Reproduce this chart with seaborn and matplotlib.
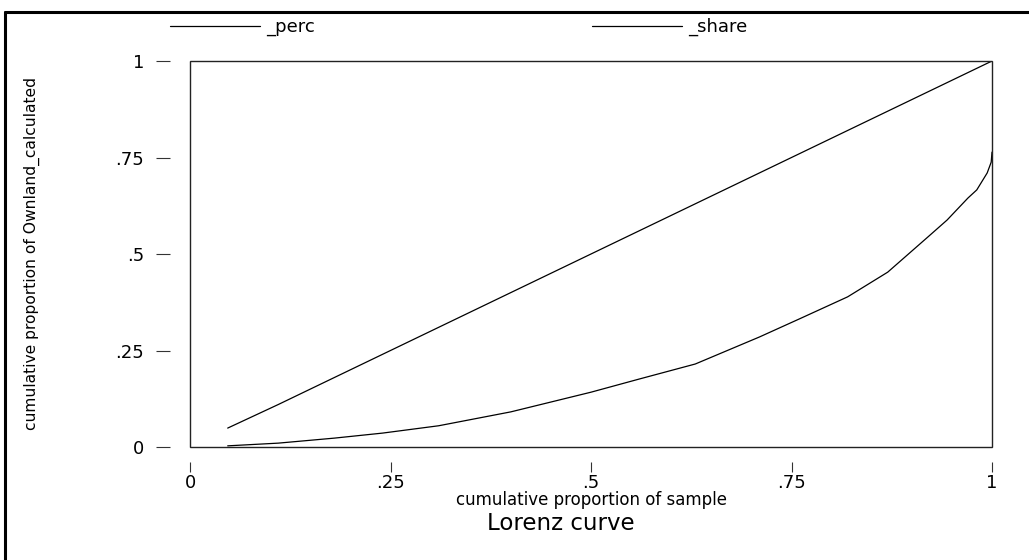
import pandas as pd
import matplotlib
matplotlib.use('Agg')
import matplotlib.pyplot as plt
from matplotlib.patches import Rectangle
from matplotlib.lines import Line2D
import seaborn as sns

# cumulative proportion of sample (x) and the two curves
cum_sample = [0.047, 0.11, 0.18, 0.24, 0.31, 0.40, 0.50, 0.56, 0.63, 0.71,
              0.76, 0.82, 0.87, 0.92, 0.944, 0.97, 0.981, 0.994, 0.999, 1.0]
cum_perc = [0.049, 0.11, 0.18, 0.24, 0.31, 0.40, 0.50, 0.56, 0.63, 0.71,
            0.76, 0.82, 0.87, 0.92, 0.944, 0.97, 0.981, 0.994, 0.999, 1.0]
cum_share = [0.003, 0.010, 0.023, 0.036, 0.055, 0.091, 0.142, 0.176, 0.215, 0.285,
             0.332, 0.389, 0.453, 0.544, 0.588, 0.645, 0.666, 0.710, 0.738, 0.764]

tick_vals = [0, 0.25, 0.5, 0.75, 1]
tick_labels = ['0', '.25', '.5', '.75', '1']


def main():
    sns.set_style('white')
    plt.rcParams['font.family'] = ['DejaVu Sans']
    plt.rcParams['text.color'] = 'black'
    plt.rcParams['xtick.color'] = 'black'
    plt.rcParams['ytick.color'] = 'black'

    df = pd.DataFrame({'sample': cum_sample, '_perc': cum_perc, '_share': cum_share})
    long_df = df.melt(id_vars='sample', var_name='series', value_name='value')

    W, H = 1029, 560
    fig = plt.figure(figsize=(W / 100, H / 100), dpi=100)
    ax = fig.add_axes([190 / W, (H - 447) / H, (992 - 190) / W, (447 - 61) / H])

    sns.lineplot(data=long_df, x='sample', y='value', hue='series',
                 palette={'_perc': 'black', '_share': 'black'},
                 linewidth=0.9, estimator=None, sort=False, ax=ax, legend=False)

    ax.set_xlim(0, 1)
    ax.set_ylim(0, 1)
    for s in ax.spines.values():
        s.set_visible(False)
    ax.spines['left'].set_position(('outward', 14.4))
    ax.spines['bottom'].set_position(('outward', 10.8))
    ax.add_patch(Rectangle((0, 0), 1, 1, transform=ax.transAxes, fill=False,
                           edgecolor='#222222', linewidth=1.0, clip_on=False, zorder=3))

    ax.set_xticks(tick_vals)
    ax.set_xticklabels(tick_labels)
    ax.set_yticks(tick_vals)
    ax.set_yticklabels(tick_labels)
    ax.tick_params(axis='y', direction='out', length=10, width=0.8, pad=8.5,
                   labelsize=13, color='#333333', labelcolor='black', left=True)
    ax.tick_params(axis='x', direction='out', length=7, width=0.8, pad=2,
                   labelsize=13, color='#333333', labelcolor='black', bottom=True)

    ax.set_xlabel('')
    ax.set_ylabel('')
    fig.text(591 / W, 1 - 500 / H, 'cumulative proportion of sample',
             ha='center', va='center', fontsize=12)
    fig.text(561 / W, 1 - 523.5 / H, 'Lorenz curve',
             ha='center', va='center', fontsize=16.5)
    fig.text(32 / W, 1 - 254 / H, 'cumulative proportion of Ownland_calculated',
             ha='center', va='center', rotation=90, fontsize=11.2)

    # legend entries, one per column
    for label, x0 in [('_perc', 170), ('_share', 592)]:
        fig.legend([Line2D([], [], color='black', linewidth=0.9)], [label],
                   loc='center left', bbox_to_anchor=(x0 / W, 1 - 27 / H),
                   frameon=False, fontsize=13, handlelength=5.0,
                   handletextpad=0.3, borderpad=0, borderaxespad=0,
                   labelcolor='black')

    # outer frame (left and top edges visible)
    fig.add_artist(Line2D([5 / W, 5 / W], [0, 1 - 11.5 / H], transform=fig.transFigure,
                          color='black', linewidth=2.2))
    fig.add_artist(Line2D([5 / W, 1], [1 - 11.5 / H, 1 - 11.5 / H], transform=fig.transFigure,
                          color='black', linewidth=2.2))

    fig.savefig('out.png', dpi=100, facecolor='white')


if __name__ == '__main__':
    main()
